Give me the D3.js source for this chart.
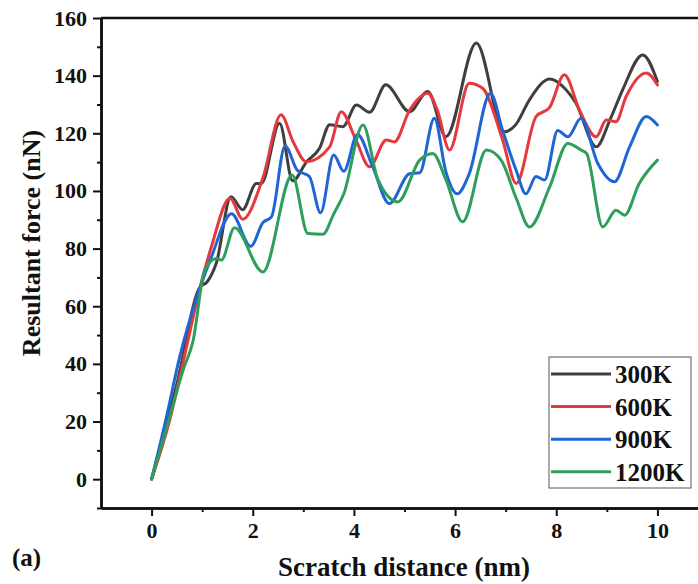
<!DOCTYPE html>
<html>
<head>
<meta charset="utf-8">
<script src="https://cdn.jsdelivr.net/npm/d3@7"></script>
<style>
  body { margin: 0; background: #fff; }
  svg { display: block; font-family: "Liberation Serif", "Times New Roman", serif; font-weight: bold; }
</style>
</head>
<body>
<div id="wrapper"></div>
<script>
const seriesNames = ['300K', '600K', '900K', '1200K']
const colors = ['#3f3f3f', '#e5393e', '#1f66d4', '#2e9e5c']

const x300 = [0, 0.5, 0.95, 1.1, 1.28, 1.57, 1.8, 2.07, 2.17, 2.53, 2.79, 3.06, 3.32, 3.52, 3.78, 4.05, 4.31, 4.63, 5.1, 5.46, 5.82, 6.42, 6.97, 7.2, 7.47, 7.87, 8.16, 8.39, 8.79, 9.07, 9.31, 9.71, 10]
const y300 = [0, 33, 66.5, 68.5, 75, 98, 93.5, 102.6, 102.6, 123.5, 103.5, 110, 114.8, 123, 122.3, 129.8, 127.3, 136.8, 127.5, 134.5, 118.8, 151.3, 120.5, 123, 131.6, 138.8, 135.7, 130.4, 115.3, 125, 135, 147.2, 138]

const x600 = [0, 0.35, 0.69, 0.95, 1.18, 1.55, 1.8, 2.2, 2.56, 2.8, 3.06, 3.52, 3.75, 4.04, 4.31, 4.64, 4.8, 5.1, 5.46, 5.65, 5.89, 6.28, 6.54, 6.94, 7.21, 7.6, 7.87, 8.16, 8.46, 8.79, 8.99, 9.18, 9.38, 9.78, 10]
const y600 = [0, 20, 45.8, 66, 80.5, 97.5, 90.2, 104.5, 126.4, 117, 110.1, 115.3, 127.5, 117.7, 108.4, 117.7, 117, 128, 133.9, 128, 114.2, 137.4, 135.7, 117.7, 102.6, 125.8, 129, 140.3, 128, 118.8, 124.6, 124, 132.7, 140.9, 136.8]

const x900 = [0, 0.3, 0.55, 0.95, 1.18, 1.58, 1.96, 2.2, 2.37, 2.64, 2.88, 3.12, 3.34, 3.6, 3.8, 4.07, 4.37, 4.7, 5.1, 5.3, 5.59, 5.82, 6.04, 6.28, 6.7, 6.94, 7.21, 7.4, 7.6, 7.77, 8.03, 8.23, 8.49, 8.82, 9.15, 9.45, 9.78, 10]
const y900 = [0, 22, 42, 66, 77, 92.1, 80.8, 89, 91, 115.6, 107.2, 105, 92.4, 112.5, 106.8, 119.6, 108.4, 95.6, 106, 106.3, 125.2, 106.5, 99, 106, 133.9, 121, 107, 99, 105, 103.8, 121, 118.8, 125.2, 109.6, 103.2, 115.3, 125.8, 122.9]

const x1200 = [0, 0.3, 0.62, 0.82, 1.05, 1.28, 1.38, 1.64, 2.2, 2.78, 3.09, 3.39, 3.6, 3.8, 4.18, 4.47, 4.87, 5.3, 5.56, 5.82, 6.15, 6.62, 6.91, 7.21, 7.47, 7.87, 8.23, 8.49, 8.6, 8.92, 9.18, 9.35, 9.64, 10]
const y1200 = [0, 18, 37.7, 48, 72.5, 76.6, 76, 87.2, 71.9, 105.5, 85.2, 85, 92, 99, 122.9, 104.2, 96.2, 110.7, 113, 103.8, 89.3, 114.2, 110.7, 97.4, 87.5, 101.4, 116.5, 114.2, 113, 87.5, 93.3, 91.6, 102.6, 110.7]

const xValues = [x300, x600, x900, x1200]
const yValues = [y300, y600, y900, y1200]

const xMajorTicks = [0, 2, 4, 6, 8, 10]
const xMinorTicks = [1, 3, 5, 7, 9]
const yMajorTicks = [0, 20, 40, 60, 80, 100, 120, 140, 160]
const yMinorTicks = [-10, 10, 30, 50, 70, 90, 110, 130, 150]

function drawChart() {
  const dimensions = {
    width: 698,
    height: 584,
    margins: { top: 18, left: 101 },
    boundedWidth: 607,
    boundedHeight: 490,
  }

  const wrapper = d3.select('#wrapper')
    .append('svg')
      .attr('width', dimensions.width)
      .attr('height', dimensions.height)

  const bounds = wrapper.append('g')
      .attr('transform', `translate(${dimensions.margins.left},${dimensions.margins.top})`)

  const xScale = d3.scaleLinear()
      .domain([-1, 11])
      .range([0, dimensions.boundedWidth])

  const yScale = d3.scaleLinear()
      .domain([-10, 160])
      .range([dimensions.boundedHeight, 0])

  // lines
  const lineGenerator = d3.line()
      .x(d => xScale(d[0]))
      .y(d => yScale(d[1]))
      .curve(d3.curveMonotoneX)

  const clip = wrapper.append('clipPath').attr('id', 'clip')
    .append('rect')
      .attr('width', dimensions.boundedWidth)
      .attr('height', dimensions.boundedHeight)

  const linesGroup = bounds.append('g').attr('clip-path', 'url(#clip)')
  seriesNames.forEach((name, i) => {
    const pts = xValues[i].map((x, j) => [x, yValues[i][j]])
    linesGroup.append('path')
        .attr('d', lineGenerator(pts))
        .attr('fill', 'none')
        .attr('stroke', colors[i])
        .attr('stroke-width', 3)
        .attr('stroke-linejoin', 'round')
        .attr('stroke-linecap', 'round')
  })

  // axes
  const styleAxis = g => {
    g.select('.domain').attr('stroke', '#111').attr('stroke-width', 2.5)
    g.selectAll('.tick line').attr('stroke', '#111').attr('stroke-width', 2)
    g.selectAll('.tick text')
        .attr('fill', '#111')
        .style('font-size', '22px')
        .style('font-family', '"Liberation Serif", serif')
        .style('font-weight', 'bold')
  }

  const xAxis = bounds.append('g')
      .attr('transform', `translate(0,${dimensions.boundedHeight})`)
      .call(d3.axisBottom(xScale).tickValues(xMajorTicks).tickSize(8).tickPadding(6).tickSizeOuter(0))
      .call(styleAxis)
  xAxis.selectAll('.tick text').attr('dy', '0.72em')

  bounds.append('g')
      .attr('transform', `translate(0,${dimensions.boundedHeight})`)
      .call(d3.axisBottom(xScale).tickValues(xMinorTicks).tickSize(4).tickFormat('').tickSizeOuter(0))
      .call(styleAxis)

  bounds.append('g')
      .call(d3.axisLeft(yScale).tickValues(yMajorTicks).tickSize(8).tickPadding(6).tickSizeOuter(0))
      .call(styleAxis)

  bounds.append('g')
      .call(d3.axisLeft(yScale).tickValues(yMinorTicks).tickSize(4).tickFormat('').tickSizeOuter(0))
      .call(styleAxis)

  // top and right frame
  bounds.append('line')
      .attr('x1', 0).attr('x2', dimensions.boundedWidth)
      .attr('y1', 0).attr('y2', 0)
      .attr('stroke', '#111').attr('stroke-width', 2.5)
  bounds.append('line')
      .attr('x1', dimensions.boundedWidth).attr('x2', dimensions.boundedWidth)
      .attr('y1', 0).attr('y2', dimensions.boundedHeight)
      .attr('stroke', '#111').attr('stroke-width', 2.5)

  // axis titles
  wrapper.append('text')
      .attr('x', 404)
      .attr('y', 576)
      .attr('text-anchor', 'middle')
      .style('font-size', '27px')
      .attr('fill', '#111')
      .text('Scratch distance (nm)')

  wrapper.append('text')
      .attr('transform', 'translate(40,243) rotate(-90)')
      .attr('text-anchor', 'middle')
      .style('font-size', '26px')
      .attr('fill', '#111')
      .text('Resultant force (nN)')

  wrapper.append('text')
      .attr('x', 12)
      .attr('y', 566)
      .style('font-size', '25px')
      .attr('fill', '#111')
      .text('(a)')

  // legend
  const legend = wrapper.append('g')
  legend.append('rect')
      .attr('x', 549).attr('y', 357)
      .attr('width', 142).attr('height', 131)
      .attr('fill', '#fff')
      .attr('stroke', '#555')
      .attr('stroke-width', 1)
  seriesNames.forEach((name, i) => {
    const yRow = 374 + i * 32.6
    legend.append('line')
        .attr('x1', 551).attr('x2', 611)
        .attr('y1', yRow).attr('y2', yRow)
        .attr('stroke', colors[i])
        .attr('stroke-width', 3)
    legend.append('text')
        .attr('x', 615)
        .attr('y', yRow + 9)
        .style('font-size', '25px')
        .attr('fill', '#111')
        .text(name)
  })
}

drawChart()
</script>
</body>
</html>
